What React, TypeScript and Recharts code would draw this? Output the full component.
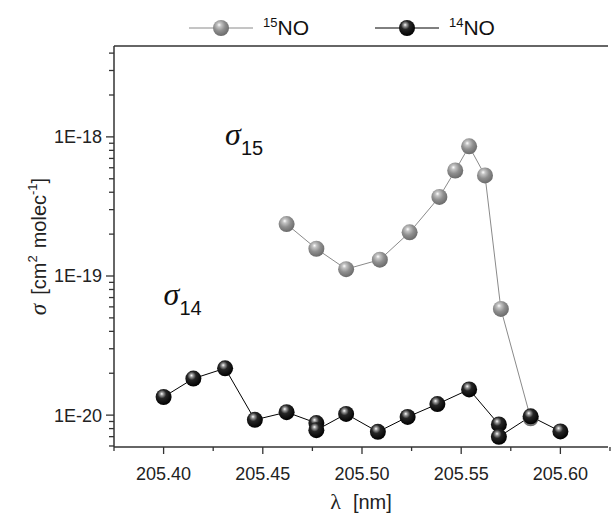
import React from 'react';
import {
    LineChart,
    Line,
    XAxis,
    YAxis,
    ReferenceLine,
    ReferenceDot,
} from 'recharts';

// wavelength (nm) and cross section (cm^2 molec^-1)
const no15Lambda = [205.462, 205.477, 205.492, 205.509, 205.524, 205.539, 205.547, 205.554, 205.562, 205.570, 205.585];
const no15Sigma = [2.36e-19, 1.57e-19, 1.12e-19, 1.31e-19, 2.06e-19, 3.7e-19, 5.73e-19, 8.55e-19, 5.28e-19, 5.8e-20, 9.5e-21];

const no14Lambda = [205.400, 205.415, 205.431, 205.446, 205.462, 205.477, 205.477, 205.492, 205.508, 205.523, 205.538, 205.554, 205.569, 205.569, 205.585, 205.600];
const no14Sigma = [1.35e-20, 1.83e-20, 2.17e-20, 9.25e-21, 1.05e-20, 8.77e-21, 7.8e-21, 1.02e-20, 7.58e-21, 9.7e-21, 1.2e-20, 1.53e-20, 8.57e-21, 6.98e-21, 9.8e-21, 7.64e-21];

const xTicksMajor = [205.40, 205.45, 205.50, 205.55, 205.60];
const xTicksMinor = [205.375, 205.425, 205.475, 205.525, 205.575, 205.625];
const yDecades = [1e-20, 1e-19, 1e-18];
const yMinorMultipliers = [2, 3, 4, 5, 6, 7, 8, 9];

const X_MIN = 205.375;
const X_MAX = 205.624;
const Y_MIN = 5.9e-21;
const Y_MAX = 4.5e-18;

const W = 611;
const H = 517;
const PLOT_LEFT = 114;
const PLOT_TOP = 46;
const PLOT_RIGHT = 608;
const PLOT_BOTTOM = 447;

const AXIS_COLOR = '#333';
const FONT = 'Arial, "Liberation Sans", Helvetica, sans-serif';
const SERIF = '"Liberation Serif", "DejaVu Serif", serif';

const no15Data = no15Lambda.map((x, i) => ({ x, y: no15Sigma[i] }));
const no14Data = no14Lambda.map((x, i) => ({ x, y: no14Sigma[i] }));

const yMinor: number[] = [];
[1e-21, 1e-20, 1e-19, 1e-18].forEach((d) =>
    yMinorMultipliers.forEach((m) => {
        const v = d * m;
        if (v > Y_MIN && v < Y_MAX) yMinor.push(v);
    })
);
const yTicks = [...yDecades, ...yMinor].sort((a, b) => a - b);
const xTicks = [...xTicksMajor, ...xTicksMinor].sort((a, b) => a - b);

const isDecade = (v: number) => Math.abs(Math.log10(v) - Math.round(Math.log10(v))) < 1e-6;
const isMajorX = (v: number) => xTicksMajor.some((t) => Math.abs(t - v) < 1e-6);

const YTick = (props: any) => {
    const { y, payload } = props;
    const major = isDecade(payload.value);
    const len = major ? 8 : 5;
    return (
        <g>
            <line x1={PLOT_LEFT - len} x2={PLOT_LEFT} y1={y} y2={y} stroke={AXIS_COLOR} strokeWidth={1.3} />
            {major && (
                <text x={PLOT_LEFT - 12} y={y} dy={6.5} textAnchor="end" fontSize={18} fill="#222" fontFamily={FONT}>
                    {`1E${Math.round(Math.log10(payload.value))}`}
                </text>
            )}
        </g>
    );
};

const XTick = (props: any) => {
    const { x, payload } = props;
    const major = isMajorX(payload.value);
    const len = major ? 7 : 4;
    return (
        <g>
            <line x1={x} x2={x} y1={PLOT_BOTTOM} y2={PLOT_BOTTOM + len} stroke={AXIS_COLOR} strokeWidth={1.3} />
            {major && (
                <text x={x} y={PLOT_BOTTOM + 33} textAnchor="middle" fontSize={18} fill="#222" fontFamily={FONT}>
                    {payload.value.toFixed(2)}
                </text>
            )}
        </g>
    );
};

const Ball = ({ cx, cy, id }: { cx?: number; cy?: number; id: string }) => {
    if (cx == null || cy == null) return null;
    return <circle cx={cx} cy={cy} r={8} fill={`url(#${id})`} />;
};

const Gradients = () => (
    <defs>
        <radialGradient id="ball15" cx="0.42" cy="0.36" r="0.64" fx="0.38" fy="0.3">
            <stop offset="0%" stopColor="#ffffff" />
            <stop offset="20%" stopColor="#c4c4c4" />
            <stop offset="55%" stopColor="#8f8f8f" />
            <stop offset="100%" stopColor="#6a6a6a" />
        </radialGradient>
        <radialGradient id="ball14" cx="0.42" cy="0.36" r="0.64" fx="0.38" fy="0.3">
            <stop offset="0%" stopColor="#ffffff" />
            <stop offset="16%" stopColor="#9a9a9a" />
            <stop offset="42%" stopColor="#262626" />
            <stop offset="100%" stopColor="#000000" />
        </radialGradient>
    </defs>
);

const Sigma = (props: any) => {
    const { cx, cy, sub } = props;
    return (
        <text x={cx} y={cy} fill="#111">
            <tspan fontFamily={SERIF} fontStyle="italic" fontSize={32}>σ</tspan>
            <tspan fontFamily={FONT} fontSize={20} dy={10}>{sub}</tspan>
        </text>
    );
};

const YLabel = () => {
    const cx = 46;
    const cy = (PLOT_TOP + PLOT_BOTTOM) / 2;
    return (
        <text transform={`translate(${cx},${cy}) rotate(-90)`} textAnchor="middle" fontSize={20} fill="#222" fontFamily={FONT}>
            <tspan fontFamily={SERIF} fontStyle="italic" fontSize={23}>σ</tspan>
            <tspan dx={9}>[cm</tspan>
            <tspan fontSize={13} dy={-9}>2</tspan>
            <tspan dx={7} dy={9}>molec</tspan>
            <tspan fontSize={13} dy={-9}>-1</tspan>
            <tspan dy={9}>]</tspan>
        </text>
    );
};

const XLabel = () => (
    <text x={(PLOT_LEFT + PLOT_RIGHT) / 2} y={H - 8} textAnchor="middle" fontSize={20} fill="#222" fontFamily={FONT}>
        <tspan fontFamily={SERIF} fontSize={22}>λ</tspan>
        <tspan dx={12}>[nm]</tspan>
    </text>
);

const LegendItem = ({ color, grad, sup }: { color: string; grad: string; sup: string }) => (
    <div style={{ display: 'flex', alignItems: 'center' }}>
        <svg width={64} height={20}>
            <line x1={0} x2={64} y1={10} y2={10} stroke={color} strokeWidth={1} />
            <circle cx={32} cy={10} r={8} fill={`url(#${grad})`} />
        </svg>
        <span style={{ marginLeft: 10, fontSize: 21, fontFamily: FONT, color: '#111' }}>
            <sup style={{ fontSize: 13 }}>{sup}</sup>NO
        </span>
    </div>
);

export default function App() {
    return (
        <div style={{ position: 'absolute', left: 0, top: 0, width: W, height: H, background: '#fff' }}>
            <svg width={0} height={0} style={{ position: 'absolute' }}>
                <Gradients />
            </svg>
            <div style={{ position: 'absolute', top: 15, left: 189, display: 'flex', gap: 66 }}>
                <LegendItem color="#8a8a8a" grad="ball15" sup="15" />
                <LegendItem color="#000" grad="ball14" sup="14" />
            </div>
            <LineChart
                width={W}
                height={H}
                margin={{ top: PLOT_TOP, right: W - PLOT_RIGHT, bottom: 0, left: 0 }}
            >
                <XAxis
                    type="number"
                    dataKey="x"
                    domain={[X_MIN, X_MAX]}
                    ticks={xTicks}
                    interval={0}
                    allowDataOverflow
                    height={H - PLOT_BOTTOM}
                    stroke={AXIS_COLOR}
                    strokeWidth={1.5}
                    tickLine={false}
                    tick={<XTick />}
                    label={<XLabel />}
                />
                <YAxis
                    type="number"
                    dataKey="y"
                    scale="log"
                    domain={[Y_MIN, Y_MAX]}
                    ticks={yTicks}
                    interval={0}
                    allowDataOverflow
                    width={PLOT_LEFT}
                    stroke={AXIS_COLOR}
                    strokeWidth={1.5}
                    tickLine={false}
                    tick={<YTick />}
                    label={<YLabel />}
                />
                <ReferenceLine y={Y_MAX} stroke={AXIS_COLOR} strokeWidth={1.5} />
                <ReferenceDot x={205.431} y={8.8e-19} r={0} shape={(p: any) => <Sigma {...p} sub="15" />} />
                <ReferenceDot x={205.400} y={6.2e-20} r={0} shape={(p: any) => <Sigma {...p} sub="14" />} />
                <Line
                    data={no15Data}
                    dataKey="y"
                    name="15NO"
                    stroke="#8a8a8a"
                    strokeWidth={1}
                    isAnimationActive={false}
                    dot={(p: any) => <Ball key={`g${p.index}`} cx={p.cx} cy={p.cy} id="ball15" />}
                    activeDot={false}
                />
                <Line
                    data={no14Data}
                    dataKey="y"
                    name="14NO"
                    stroke="#000"
                    strokeWidth={1}
                    isAnimationActive={false}
                    dot={(p: any) => <Ball key={`b${p.index}`} cx={p.cx} cy={p.cy} id="ball14" />}
                    activeDot={false}
                />
            </LineChart>
        </div>
    );
}
